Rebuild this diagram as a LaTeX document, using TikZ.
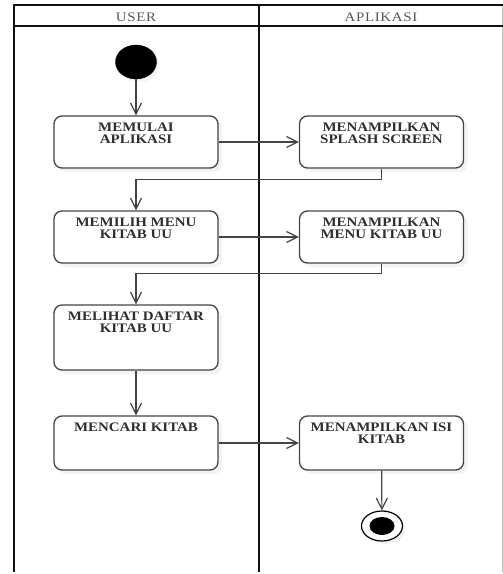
\documentclass[tikz,border=0pt]{standalone}
\usepackage{fontspec}
\setmainfont{Liberation Serif}
\newfontfamily\actfont[FakeStretch=1.15]{Liberation Serif}
\newfontfamily\lanefont[FakeStretch=1.15,LetterSpace=5]{Liberation Serif}
\usetikzlibrary{arrows.meta,shadows,shapes.geometric}

\definecolor{lanecol}{HTML}{111111}
\definecolor{edgecol}{HTML}{444444}
\definecolor{txtcol}{HTML}{2E2E2E}
\definecolor{headcol}{HTML}{555555}

\tikzset{
  lane/.style={draw=lanecol, line width=1.8pt},
  lanefaint/.style={draw=black!25, line width=0.8pt},
  lanehead/.style={text=headcol, font=\lanefont\fontsize{13}{13}\selectfont, inner sep=0pt},
  activity/.style={draw=edgecol, line width=1.3pt, fill=white, rounded corners=8pt,
    minimum width=164pt, inner sep=0pt,
    drop shadow={shadow xshift=4pt, shadow yshift=-4pt, fill=black!9}},
  acttext/.style={anchor=north, yshift=-7pt, inner sep=0pt, align=center, text=txtcol,
    font=\actfont\bfseries\fontsize{13}{12}\selectfont},
  flow/.style={draw=edgecol, line width=1.2pt,
    -{Straight Barb[length=11pt, width=11pt, line width=1.2pt]}},
}

\begin{document}
\begin{tikzpicture}[x=1pt, y=-1pt]
  \useasboundingbox (0,0) rectangle (503,574);

  % swimlane frame
  \draw[lanefaint] (502,5) -- (502,572);
  \draw[lane] (14,5) -- (503,5);
  \draw[lane] (14,26) -- (503,26);
  \draw[lane] (14,4.1) -- (14,572);
  \draw[lane] (259,4.1) -- (259,572);
  \node[lanehead] (hUser) at (136,17) {USER};
  \node[lanehead] (hApp) at (381,17) {APLIKASI};

  % initial node
  \node[ellipse, fill=black, draw=black, minimum width=41pt, minimum height=34pt, inner sep=0pt,
        drop shadow={shadow xshift=3pt, shadow yshift=-3pt, fill=black!9}] (start) at (136,62) {};

  % activities
  \node[activity, minimum height=52pt,
        label={[acttext]north:MEMULAI\\APLIKASI}] (b1) at (136,142) {};
  \node[activity, minimum height=52pt,
        label={[acttext]north:MENAMPILKAN\\SPLASH SCREEN}] (b2) at (381.5,142) {};
  \node[activity, minimum height=52pt,
        label={[acttext]north:MEMILIH MENU\\KITAB UU}] (b3) at (136,237) {};
  \node[activity, minimum height=52pt,
        label={[acttext]north:MENAMPILKAN\\MENU KITAB UU}] (b4) at (381.5,237) {};
  \node[activity, minimum height=65pt,
        label={[acttext]north:MELIHAT DAFTAR\\KITAB UU}] (b5) at (136,337.5) {};
  \node[activity, minimum height=54pt,
        label={[acttext]north:MENCARI KITAB}] (b6) at (136,443) {};
  \node[activity, minimum height=54pt,
        label={[acttext]north:MENAMPILKAN ISI\\KITAB}] (b7) at (381.5,443) {};

  % final node
  \node[ellipse, fill=white, draw=black, line width=1.2pt, minimum width=41pt, minimum height=30pt,
        inner sep=0pt, drop shadow={shadow xshift=3pt, shadow yshift=-3pt, fill=black!9}] (end) at (382,526) {};
  \node[ellipse, fill=black, minimum width=25pt, minimum height=18pt, inner sep=0pt] (endcore) at (end.center) {};

  % control flow
  \draw[flow] (start) -- (b1);
  \draw[flow] (b1) -- (b2);
  \draw[flow] (b2.south) -- ++(0,11) -| (b3.north);
  \draw[flow] (b3) -- (b4);
  \draw[flow] (b4.south) -- ++(0,10) -| (b5.north);
  \draw[flow] (b5) -- (b6);
  \draw[flow] (b6) -- (b7);
  \draw[flow] (b7) -- (end);
\end{tikzpicture}
\end{document}
